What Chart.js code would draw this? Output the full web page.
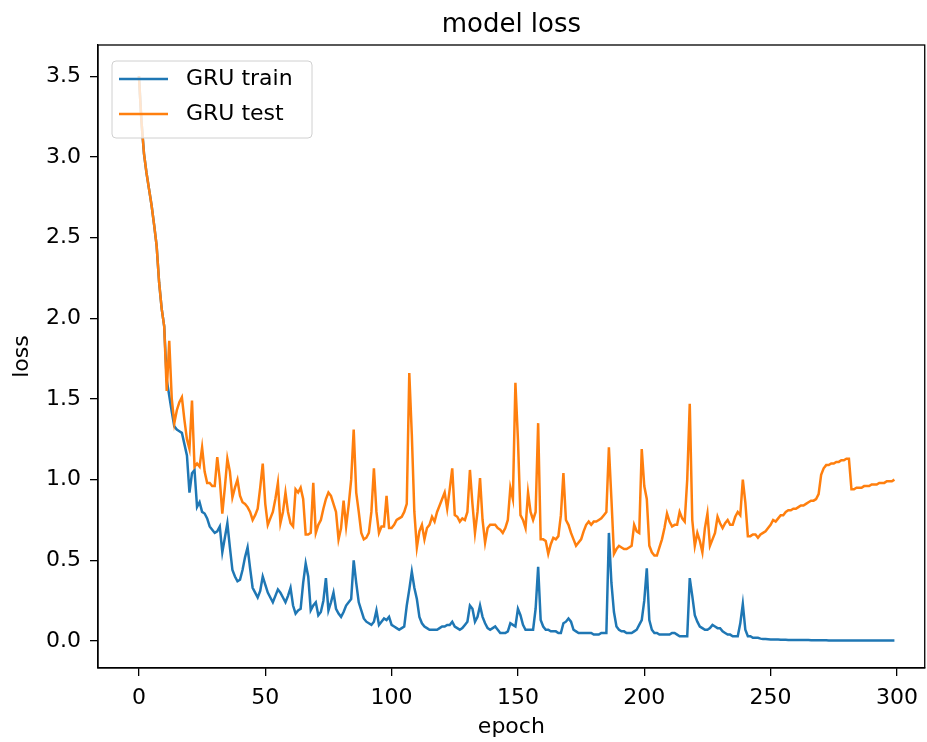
<!DOCTYPE html>
<html>
<head>
<meta charset="utf-8">
<script src="https://cdn.jsdelivr.net/npm/chart.js@4.4.0/dist/chart.umd.min.js"></script>
<style>
  html, body { margin: 0; padding: 0; background: #fff; }
  #wrap { width: 927px; height: 742px; }
</style>
</head>
<body>
<div id="wrap"><canvas id="graficoLoss" width="927" height="742"></canvas></div>
<script>
// valores (epoch 0..299)
const trainLoss = [
  3.50, 3.22, 3.02, 2.90, 2.80, 2.70, 2.58, 2.45, 2.22, 2.06,
  1.95, 1.62, 1.52, 1.42, 1.33, 1.31, 1.30, 1.29, 1.22, 1.15,
  0.92, 1.04, 1.06, 0.83, 0.86, 0.80, 0.79, 0.76, 0.71, 0.69,
  0.67, 0.68, 0.71, 0.55, 0.64, 0.73, 0.58, 0.44, 0.40, 0.37,
  0.38, 0.44, 0.52, 0.58, 0.45, 0.33, 0.30, 0.27, 0.31, 0.40,
  0.35, 0.30, 0.27, 0.24, 0.28, 0.32, 0.30, 0.27, 0.24, 0.28,
  0.33, 0.22, 0.17, 0.19, 0.20, 0.36, 0.48, 0.40, 0.19, 0.22,
  0.24, 0.16, 0.18, 0.25, 0.39, 0.19, 0.24, 0.30, 0.20, 0.17,
  0.15, 0.18, 0.22, 0.24, 0.26, 0.50, 0.36, 0.24, 0.19, 0.14,
  0.12, 0.11, 0.10, 0.12, 0.19, 0.10, 0.12, 0.14, 0.13, 0.15,
  0.10, 0.09, 0.08, 0.07, 0.08, 0.09, 0.22, 0.32, 0.43, 0.33,
  0.26, 0.15, 0.11, 0.09, 0.08, 0.07, 0.07, 0.07, 0.07, 0.08,
  0.09, 0.09, 0.10, 0.10, 0.12, 0.09, 0.08, 0.07, 0.08, 0.10,
  0.12, 0.22, 0.20, 0.12, 0.15, 0.22, 0.15, 0.11, 0.08, 0.07,
  0.08, 0.09, 0.07, 0.05, 0.05, 0.05, 0.06, 0.11, 0.10, 0.09,
  0.20, 0.16, 0.10, 0.07, 0.07, 0.07, 0.07, 0.20, 0.46, 0.13,
  0.09, 0.07, 0.07, 0.06, 0.06, 0.06, 0.05, 0.05, 0.11, 0.12,
  0.14, 0.12, 0.07, 0.06, 0.05, 0.05, 0.05, 0.05, 0.05, 0.05,
  0.04, 0.04, 0.04, 0.05, 0.05, 0.05, 0.67, 0.36, 0.18, 0.09,
  0.07, 0.06, 0.06, 0.05, 0.05, 0.05, 0.06, 0.07, 0.10, 0.13,
  0.25, 0.45, 0.13, 0.07, 0.05, 0.05, 0.04, 0.04, 0.04, 0.04,
  0.04, 0.05, 0.05, 0.04, 0.03, 0.03, 0.03, 0.03, 0.39, 0.28,
  0.16, 0.12, 0.09, 0.08, 0.07, 0.07, 0.08, 0.10, 0.09, 0.08,
  0.08, 0.06, 0.05, 0.04, 0.04, 0.03, 0.03, 0.03, 0.11, 0.23,
  0.07, 0.03, 0.03, 0.02, 0.02, 0.02, 0.015, 0.013, 0.012, 0.011,
  0.010, 0.010, 0.009, 0.009, 0.008, 0.008, 0.008, 0.007, 0.007, 0.007,
  0.007, 0.006, 0.006, 0.006, 0.006, 0.006, 0.005, 0.005, 0.005, 0.005,
  0.005, 0.005, 0.005, 0.004, 0.004, 0.004, 0.004, 0.004, 0.004, 0.004,
  0.004, 0.004, 0.004, 0.004, 0.003, 0.003, 0.003, 0.003, 0.003, 0.003,
  0.003, 0.003, 0.003, 0.003, 0.003, 0.003, 0.003, 0.003, 0.003, 0.003
];
const testLoss = [
  3.50, 3.22, 3.02, 2.90, 2.80, 2.70, 2.58, 2.45, 2.22, 2.06,
  1.95, 1.55, 1.86, 1.50, 1.35, 1.43, 1.48, 1.51, 1.37, 1.25,
  1.19, 1.49, 1.08, 1.10, 1.08, 1.20, 1.05, 0.98, 0.98, 0.96,
  0.96, 1.14, 1.00, 0.79, 0.95, 1.13, 1.05, 0.89, 0.95, 1.00,
  0.90, 0.86, 0.85, 0.83, 0.80, 0.75, 0.78, 0.82, 0.95, 1.10,
  0.85, 0.72, 0.76, 0.80, 0.88, 0.98, 0.73, 0.80, 0.92, 0.80,
  0.73, 0.71, 0.94, 0.92, 0.95, 0.88, 0.66, 0.66, 0.67, 0.98,
  0.67, 0.72, 0.75, 0.82, 0.88, 0.92, 0.90, 0.85, 0.80, 0.63,
  0.70, 0.87, 0.71, 0.84, 1.00, 1.31, 0.92, 0.80, 0.67, 0.63,
  0.64, 0.67, 0.80, 1.07, 0.80, 0.67, 0.71, 0.71, 0.90, 0.70,
  0.70, 0.72, 0.75, 0.76, 0.77, 0.80, 0.85, 1.66, 1.28, 0.80,
  0.58, 0.68, 0.72, 0.63, 0.70, 0.72, 0.77, 0.74, 0.80, 0.84,
  0.88, 0.92, 0.82, 0.94, 1.07, 0.78, 0.77, 0.74, 0.76, 0.75,
  0.80, 1.06, 0.85, 0.67, 0.80, 1.01, 0.75, 0.61, 0.70, 0.72,
  0.72, 0.72, 0.70, 0.69, 0.67, 0.70, 0.75, 0.95, 0.88, 1.60,
  1.25, 0.78, 0.75, 0.70, 0.92, 0.80, 0.75, 0.80, 1.35, 0.63,
  0.63, 0.62, 0.54, 0.60, 0.64, 0.63, 0.65, 0.78, 1.04, 0.75,
  0.72, 0.67, 0.63, 0.59, 0.61, 0.63, 0.68, 0.72, 0.74, 0.72,
  0.74, 0.74, 0.75, 0.76, 0.78, 0.80, 1.20, 0.88, 0.54, 0.57,
  0.59, 0.58, 0.57, 0.57, 0.58, 0.59, 0.72, 0.68, 0.67, 1.19,
  0.96, 0.88, 0.59, 0.55, 0.53, 0.53, 0.58, 0.63, 0.70, 0.79,
  0.74, 0.71, 0.72, 0.72, 0.80, 0.76, 0.74, 1.00, 1.47, 0.75,
  0.59, 0.67, 0.62, 0.55, 0.70, 0.79, 0.59, 0.63, 0.67, 0.77,
  0.73, 0.70, 0.73, 0.75, 0.72, 0.72, 0.77, 0.80, 0.78, 1.00,
  0.86, 0.65, 0.65, 0.66, 0.66, 0.64, 0.66, 0.67, 0.68, 0.70,
  0.72, 0.75, 0.74, 0.76, 0.78, 0.78, 0.80, 0.81, 0.81, 0.82,
  0.82, 0.83, 0.84, 0.84, 0.85, 0.86, 0.87, 0.87, 0.88, 0.91,
  1.03, 1.07, 1.09, 1.09, 1.10, 1.10, 1.11, 1.11, 1.12, 1.12,
  1.13, 1.13, 0.94, 0.94, 0.95, 0.95, 0.95, 0.96, 0.96, 0.96,
  0.97, 0.97, 0.97, 0.98, 0.98, 0.98, 0.99, 0.99, 0.99, 1.00
];
const seriesNames = ['GRU train', 'GRU test'];
const xTicks = [0, 50, 100, 150, 200, 250, 300];
const yTicks = [0.0, 0.5, 1.0, 1.5, 2.0, 2.5, 3.0, 3.5];

const fuente = '"DejaVu Sans", "Liberation Sans", sans-serif';
const colores = ['#1f77b4', '#ff7f0e'];

const aPuntos = arr => arr.map((v, i) => ({ x: i, y: v }));

// marco, titulo y leyenda al estilo matplotlib
const marcoPlugin = {
  id: 'marco',
  afterDraw(chart) {
    const { ctx, chartArea: a } = chart;
    ctx.save();
    ctx.strokeStyle = '#000';
    ctx.lineWidth = 1.3;
    ctx.strokeRect(a.left, a.top, a.right - a.left, a.bottom - a.top);

    ctx.fillStyle = '#000';
    ctx.font = '26px ' + fuente;
    ctx.textAlign = 'center';
    ctx.textBaseline = 'middle';
    ctx.fillText('model loss', (a.left + a.right) / 2, 25);

    // leyenda
    ctx.beginPath();
    ctx.roundRect(112, 61, 200, 77, 4);
    ctx.fillStyle = 'rgba(255,255,255,0.8)';
    ctx.fill();
    ctx.strokeStyle = '#d0d0d0';
    ctx.lineWidth = 1;
    ctx.stroke();
    ctx.font = '22px ' + fuente;
    ctx.textAlign = 'left';
    chart.data.datasets.forEach((ds, i) => {
      const y = 79 + i * 35;
      ctx.strokeStyle = ds.borderColor;
      ctx.lineWidth = 2.5;
      ctx.beginPath();
      ctx.moveTo(119, y);
      ctx.lineTo(168, y);
      ctx.stroke();
      ctx.fillStyle = '#000';
      ctx.fillText(ds.label, 186, y);
    });
    ctx.restore();
  }
};

const ctx = document.getElementById('graficoLoss').getContext('2d');
new Chart(ctx, {
  type: 'line',
  data: {
    datasets: [{
      label: seriesNames[0],
      data: aPuntos(trainLoss),
      borderColor: colores[0],
      borderWidth: 2.5,
      pointRadius: 0,
      tension: 0,
      order: 2
    }, {
      label: seriesNames[1],
      data: aPuntos(testLoss),
      borderColor: colores[1],
      borderWidth: 2.5,
      pointRadius: 0,
      tension: 0,
      order: 1
    }]
  },
  options: {
    responsive: false,
    animation: false,
    layout: { padding: { top: 45, right: 2, left: 0, bottom: 0 } },
    plugins: {
      legend: { display: false },
      title: { display: false },
      tooltip: { enabled: false }
    },
    scales: {
      x: {
        type: 'linear',
        min: -16.2,
        max: 311,
        afterBuildTicks: s => { s.ticks = xTicks.map(v => ({ value: v })); },
        afterFit: s => { s.height = 74; },
        ticks: {
          color: '#000',
          font: { size: 22, family: fuente },
          maxRotation: 0,
          autoSkip: false,
          padding: 9
        },
        grid: { drawOnChartArea: false, drawTicks: true, tickLength: 8, color: '#000', lineWidth: 1.3 },
        border: { display: true, color: '#000', width: 1.3 },
        title: {
          display: true,
          text: 'epoch',
          color: '#000',
          font: { size: 22, family: fuente },
          padding: { top: 0, bottom: 2 }
        }
      },
      y: {
        type: 'linear',
        min: -0.167,
        max: 3.693,
        afterBuildTicks: s => { s.ticks = yTicks.map(v => ({ value: v })); },
        afterFit: s => { s.width = 98; },
        ticks: {
          color: '#000',
          font: { size: 22, family: fuente },
          padding: 9,
          callback: v => Number(v).toFixed(1)
        },
        grid: { drawOnChartArea: false, drawTicks: true, tickLength: 8, color: '#000', lineWidth: 1.3 },
        border: { display: true, color: '#000', width: 1.3 },
        title: {
          display: true,
          text: 'loss',
          color: '#000',
          font: { size: 22, family: fuente },
          padding: { top: 9, bottom: 0 }
        }
      }
    }
  },
  plugins: [marcoPlugin]
});
</script>
</body>
</html>
